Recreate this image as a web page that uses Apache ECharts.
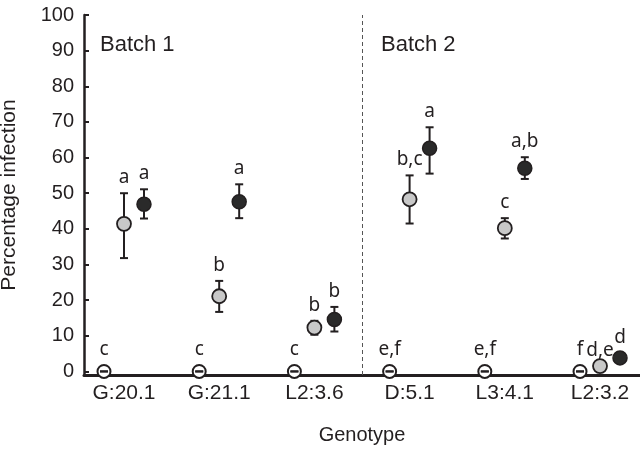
<!DOCTYPE html>
<html>
<head>
<meta charset="utf-8">
<style>
  html, body { margin: 0; padding: 0; background: #fff; }
  #chart { width: 640px; height: 449px; }
</style>
<script src="https://cdn.jsdelivr.net/npm/echarts@6/dist/echarts.min.js"></script>
</head>
<body>
<div id="chart"></div>
<script>
// genotypes on the x axis
var genotypes = ['G:20.1', 'G:21.1', 'L2:3.6', 'D:5.1', 'L3:4.1', 'L2:3.2']
var yTicks = [0, 10, 20, 30, 40, 50, 60, 70, 80, 90, 100]

// open circles (all at zero)
var openMean = [0, 0, 0, 0, 0, 0]
var openLetters = ['c', 'c', 'c', 'e,f', 'e,f', 'f']

// grey circles
var greyMean = [41.4, 21.1, 12.3, 48.3, 40.2, 1.5]
var greyLow = [31.8, 16.7, 10.3, 41.5, 37.3, 1.5]
var greyHigh = [50.0, 25.4, 14.2, 55.0, 43.0, 1.5]
var greyLetters = ['a', 'b', 'b', 'b,c', 'c', 'd,e']

// black circles
var blackMean = [46.9, 47.6, 14.6, 62.6, 57.0, 3.8]
var blackLow = [42.9, 43.0, 11.2, 55.5, 54.0, 2.5]
var blackHigh = [51.1, 52.5, 18.1, 68.5, 60.1, 5.2]
var blackLetters = ['a', 'a', 'b', 'a', 'a,b', 'd']

var dark = '#231f20'
var off = 0.21 // horizontal offset of open / black points from the category

function pts(mean, shift) {
  return mean.map(function (v, i) { return [i + shift, v] })
}
function bars(mean, low, high, shift) {
  return mean.map(function (v, i) { return [i + shift, low[i], high[i]] })
}
function tags(high, letters, shift) {
  return letters.map(function (t, i) { return { name: t, value: [i + shift, high[i]] } })
}

function renderBar(params, api) {
  var x = api.value(0)
  var lo = api.coord([x, api.value(1)])
  var hi = api.coord([x, api.value(2)])
  var w = 4
  var st = { stroke: dark, lineWidth: 2 }
  return {
    type: 'group',
    children: [
      { type: 'line', shape: { x1: hi[0], y1: hi[1], x2: lo[0], y2: lo[1] }, style: st },
      { type: 'line', shape: { x1: hi[0] - w, y1: hi[1], x2: hi[0] + w, y2: hi[1] }, style: st },
      { type: 'line', shape: { x1: lo[0] - w, y1: lo[1], x2: lo[0] + w, y2: lo[1] }, style: st }
    ]
  }
}

var letterFont = { show: true, position: 'top', formatter: '{b}', color: dark, fontSize: 19, fontFamily: 'Noto Sans' }

function letterSeries(high, letters, shift, dist) {
  return {
    type: 'scatter', z: 4, symbolSize: 0, silent: true,
    itemStyle: { opacity: 1 },
    data: tags(high, letters, shift),
    label: Object.assign({}, letterFont, { distance: dist })
  }
}

var chart = echarts.init(document.getElementById('chart'))
chart.setOption({
  animation: false,
  grid: { left: 84, right: 0, top: 15, bottom: 74, outerBoundsMode: 'none' },
  xAxis: {
    type: 'value',
    min: -0.42,
    max: 5.42,
    name: 'Genotype',
    nameLocation: 'middle',
    nameGap: 50,
    nameTextStyle: { color: dark, fontSize: 20, fontFamily: 'Liberation Sans' },
    axisLine: { onZero: false, lineStyle: { color: dark, width: 3 } },
    axisTick: { show: false },
    splitLine: { show: false },
    axisLabel: {
      customValues: [0, 1, 2, 3, 4, 5],
      formatter: function (v) { return genotypes[Math.round(v)] },
      color: dark,
      fontSize: 21,
      fontFamily: 'Liberation Sans',
      margin: 8
    }
  },
  yAxis: {
    type: 'value',
    min: -1,
    max: 100,
    name: 'Percentage infection',
    nameLocation: 'middle',
    nameRotate: 90,
    nameGap: 64,
    nameTextStyle: { color: dark, fontSize: 21, fontFamily: 'Liberation Sans' },
    axisLine: { show: true, onZero: false, lineStyle: { color: dark, width: 2.5 } },
    axisTick: { show: true, inside: true, length: 5, customValues: yTicks, lineStyle: { color: dark, width: 2 } },
    splitLine: { show: false },
    axisLabel: { customValues: yTicks, color: dark, fontSize: 20, fontFamily: 'Liberation Sans', margin: 10 }
  },
  graphic: [
    { type: 'text', left: 100, top: 34, style: { text: 'Batch 1', fill: dark, font: '22px "Liberation Sans"' } },
    { type: 'text', left: 381, top: 34, style: { text: 'Batch 2', fill: dark, font: '22px "Liberation Sans"' } }
  ],
  series: [
    {
      type: 'scatter', z: 1,
      data: pts(openMean, -off),
      symbolSize: 13,
      itemStyle: { color: '#fff', borderColor: dark, borderWidth: 2, opacity: 1 },
      markLine: {
        silent: true, symbol: 'none', label: { show: false },
        lineStyle: { color: '#555', type: [4, 3], width: 1 },
        data: [{ xAxis: 2.5 }]
      }
    },
    {
      type: 'custom', z: 2,
      renderItem: renderBar,
      data: bars(openMean, openMean, openMean, -off)
        .concat(bars(greyMean, greyLow, greyHigh, 0))
        .concat(bars(blackMean, blackLow, blackHigh, off))
    },
    {
      type: 'scatter', z: 3,
      data: pts(greyMean, 0),
      symbolSize: 14,
      itemStyle: { color: '#c8c8c8', borderColor: dark, borderWidth: 1.8, opacity: 1 }
    },
    {
      type: 'scatter', z: 3,
      data: pts(blackMean, off),
      symbolSize: 14,
      itemStyle: { color: '#2a2a2a', borderColor: dark, borderWidth: 1.5, opacity: 1 }
    },
    letterSeries(openMean, openLetters, -off, 12),
    letterSeries(greyHigh, greyLetters, 0, 6),
    letterSeries(blackHigh, blackLetters, off, 6)
  ]
})
</script>
</body>
</html>
